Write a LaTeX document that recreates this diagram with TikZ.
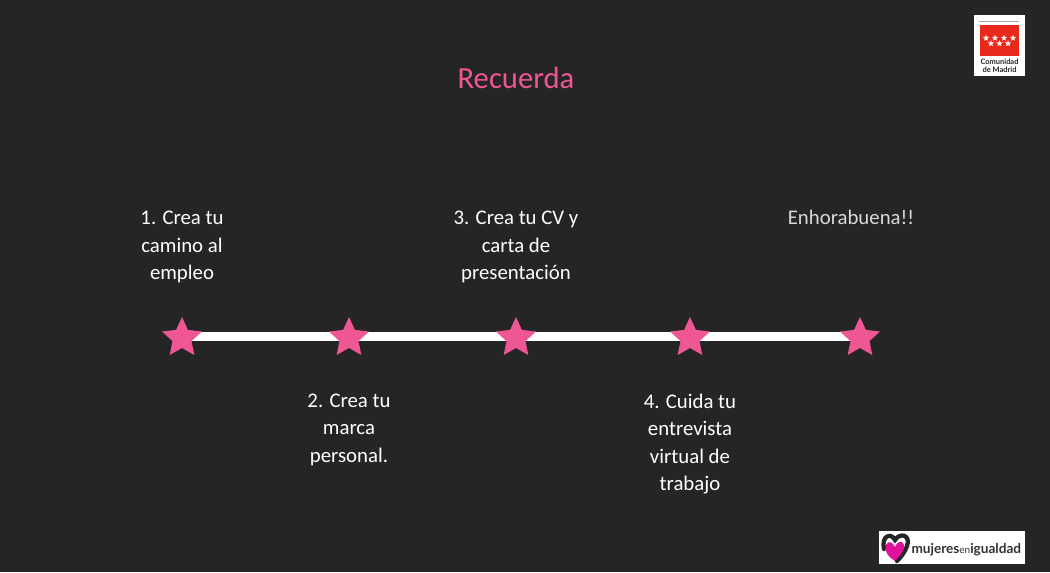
\documentclass[tikz,border=0pt]{standalone}
\usepackage{fontspec}
\setmainfont{Carlito}
\newfontfamily\logofont{Lato}
\usetikzlibrary{positioning,shapes.geometric,backgrounds}
\definecolor{slidebg}{HTML}{252525}
\definecolor{starpink}{HTML}{EF5794}
\definecolor{logored}{HTML}{E8291C}
\definecolor{heartpink}{HTML}{E0119A}

\begin{document}
\begin{tikzpicture}[x=.75pt, y=-.75pt]
\tikzset{
    every node/.style = {inner sep=0pt, outer sep=0pt, align=center},
    stepstar/.style = {star, star points=5, star point ratio=2.1, fill=starpink, minimum size=31.5pt},
    steptext/.style = {text=white, font=\fontsize{15.6}{20.6}\selectfont},
    barline/.style = {draw=white, line width=7.2pt},
    tinystar/.style = {star, star points=5, star point ratio=2.4, fill=white, minimum size=4.9pt}
}
\useasboundingbox (0,0) rectangle (1050,572);

% -------------------------------------------------------
\node[text=starpink, font=\fontsize{23}{28}\selectfont] (title) at (516,78) {Recuerda};

\node[stepstar] (s1) at (182,338) {};
\node[stepstar] (s2) at (349,338) {};
\node[stepstar] (s3) at (516,338) {};
\node[stepstar] (s4) at (690,338) {};
\node[stepstar] (s5) at (860,338) {};

\node[steptext, above=25.5pt of s1] (t1) {1. Crea tu\\camino al\\empleo};
\node[steptext, below=34.5pt of s2] (t2) {2. Crea tu\\marca\\personal.};
\node[steptext, above=25.5pt of s3] (t3) {3. Crea tu CV y\\carta de\\presentación};
\node[steptext, below=34.5pt of s4] (t4) {4. Cuida tu\\entrevista\\virtual de\\trabajo};
\node[steptext, text=white!85!black, anchor=base] (t5) at (851,224) {Enhorabuena!!};

% -------------------------------------------------------
\begin{pgfonlayer}{background}
\fill[slidebg] (0,0) rectangle (1050,572);
\path[barline] ([yshift=1pt]s1.center) edge ([yshift=1pt]s5.center);
\end{pgfonlayer}

% -------------------------------------------------------
\node[fill=white, minimum width=38.25pt, minimum height=45.75pt] (madrid) at (999.5,45.5) {};
\fill[gray!70] (979,21) rectangle (1019,22);
\node[fill=logored, minimum width=29.25pt, minimum height=23.25pt] (flag) at (999.5,40.5) {};
\node[tinystar] (f1) at (986,38) {};
\node[tinystar] (f2) at (995,38) {};
\node[tinystar] (f3) at (1004,38) {};
\node[tinystar] (f4) at (1013,38) {};
\node[tinystar] (f5) at (991,43.5) {};
\node[tinystar] (f6) at (999.5,43.5) {};
\node[tinystar] (f7) at (1008,43.5) {};
\node[font=\logofont\bfseries\fontsize{5.6}{5.8}\selectfont, text=black!85] (madridname) at (999.5,65.5) {Comunidad\\de Madrid};

% -------------------------------------------------------
\node[fill=white, minimum width=109.5pt, minimum height=24.75pt] (igualdad) at (952,547.5) {};
\draw[black!85, line width=3.2pt, line cap=round] (884,549)
    .. controls (881,536) and (891,532) .. (895,540)
    .. controls (900,532) and (911,535) .. (907,546)
    .. controls (905,552) and (901,557) .. (897,561);
\fill[heartpink] (895,561)
    .. controls (887,556) and (884,550) .. (886,545)
    .. controls (888,540) and (893,542) .. (895,547)
    .. controls (897,541) and (903,540) .. (904,545)
    .. controls (905,550) and (900,556) .. (895,561);
\node[font=\logofont\fontsize{10.2}{12}\selectfont, text=black!80, anchor=base west] (igualdadname) at (911.5,553)
    {\textbf{mujeres}{\fontsize{7.5}{12}\selectfont en}\textbf{igualdad}};
\end{tikzpicture}
\end{document}
